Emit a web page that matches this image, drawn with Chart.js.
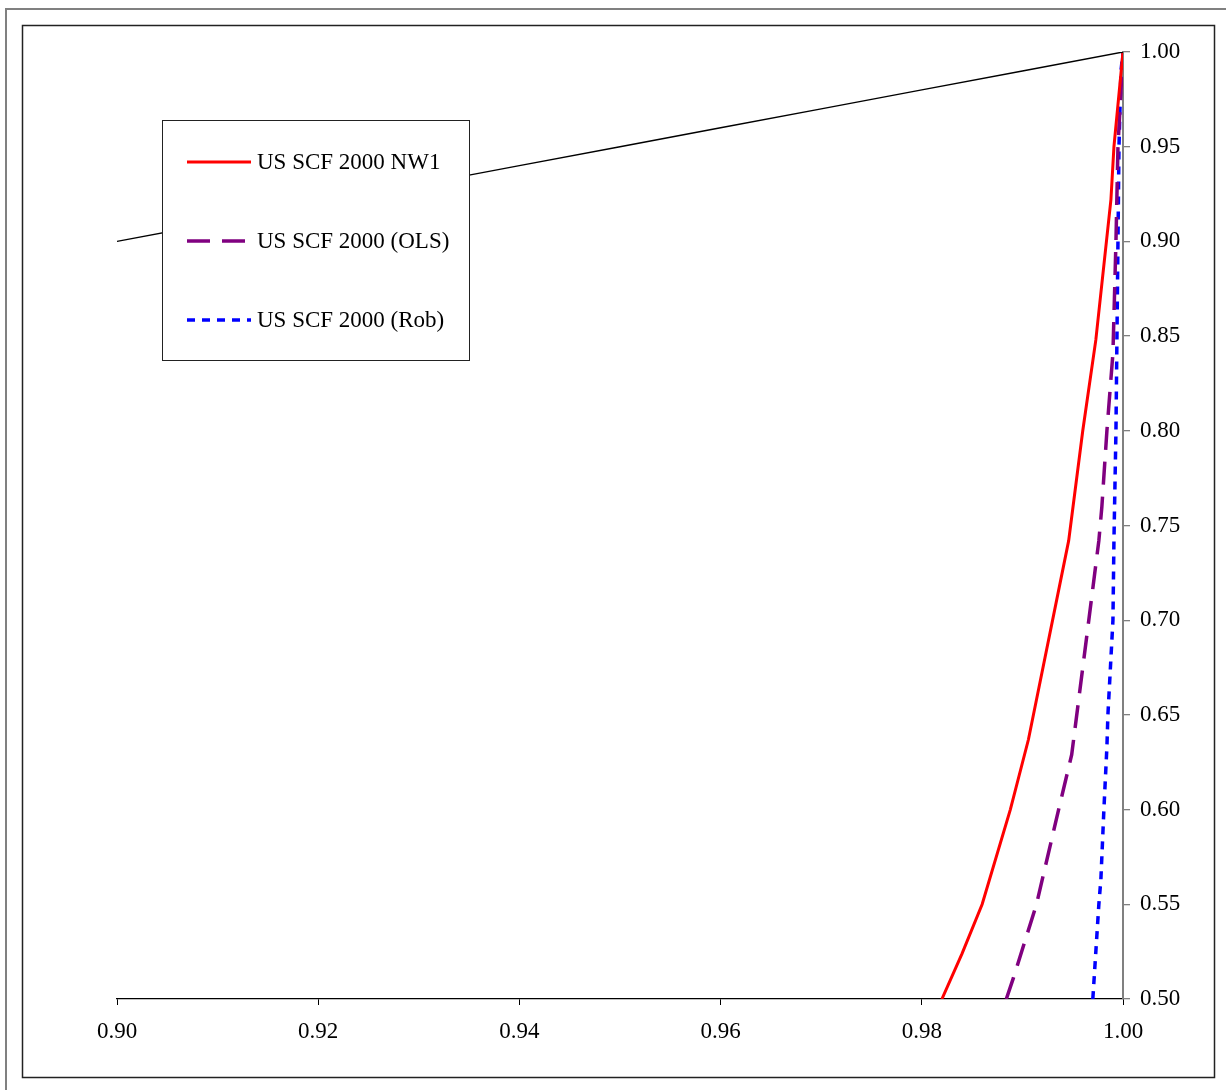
<!DOCTYPE html>
<html>
<head>
<meta charset="utf-8">
<script src="https://cdn.jsdelivr.net/npm/chart.js@4/dist/chart.umd.min.js"></script>
<style>
  html, body { margin: 0; padding: 0; background: #ffffff; }
  #wrap { width: 1226px; height: 1090px; position: relative; }
</style>
</head>
<body>
<div id="wrap"><canvas id="c" width="1226" height="1090"></canvas></div>
<script>
// ---- data ----
const xTicks = [0.90, 0.92, 0.94, 0.96, 0.98, 1.00];
const yTicks = [0.50, 0.55, 0.60, 0.65, 0.70, 0.75, 0.80, 0.85, 0.90, 0.95, 1.00];

const equalityX = [0.900, 0.910, 0.920, 0.930, 0.940, 0.950, 0.960, 0.970, 0.980, 0.990, 1.000];
const equalityY = [0.900, 0.910, 0.920, 0.930, 0.940, 0.950, 0.960, 0.970, 0.980, 0.990, 1.000];

const nw1X = [0.9820, 0.9840, 0.9860, 0.9888, 0.9906, 0.9946, 0.9960, 0.9973, 0.9988, 0.9991, 1.0000];
const nw1Y = [0.500, 0.524, 0.550, 0.600, 0.637, 0.742, 0.800, 0.848, 0.922, 0.950, 1.000];

const olsX = [0.9884, 0.9891, 0.9914, 0.9936, 0.9949, 0.9966, 0.9976, 0.9979, 0.9984, 0.9990, 0.9993, 0.9995, 1.0000];
const olsY = [0.500, 0.511, 0.550, 0.600, 0.629, 0.700, 0.742, 0.760, 0.800, 0.841, 0.900, 0.950, 1.000];

const robX = [0.9970, 0.9976, 0.9978, 0.9981, 0.9984, 0.9985, 0.9990, 0.9991, 0.9993, 0.9994, 0.9995, 0.9996, 0.9998, 1.0000];
const robY = [0.500, 0.550, 0.563, 0.600, 0.633, 0.650, 0.700, 0.742, 0.800, 0.850, 0.900, 0.950, 0.990, 1.000];

const seriesLabels = ['US SCF 2000 NW1', 'US SCF 2000 (OLS)', 'US SCF 2000 (Rob)'];

function pts(xs, ys) { return xs.map((x, i) => ({ x: x, y: ys[i] })); }

const FONT = '"Liberation Serif", "Times New Roman", serif';

const framePlugin = {
  id: 'frames',
  beforeDraw(chart) {
    const ctx = chart.ctx;
    ctx.save();
    ctx.fillStyle = '#ffffff';
    ctx.fillRect(0, 0, chart.width, chart.height);
    ctx.strokeStyle = '#808080';
    ctx.lineWidth = 2;
    ctx.strokeRect(6, 9, 1240, 1100);
    ctx.strokeStyle = '#222222';
    ctx.lineWidth = 1.5;
    ctx.strokeRect(22.5, 25.5, 1192, 1052);
    ctx.restore();
  }
};

const legendPlugin = {
  id: 'boxLegend',
  afterDatasetsDraw(chart) {
    const ctx = chart.ctx;
    ctx.save();
    const bx = 162.5, by = 120.5, bw = 307, bh = 240;
    ctx.fillStyle = '#ffffff';
    ctx.fillRect(bx, by, bw, bh);
    ctx.strokeStyle = '#222222';
    ctx.lineWidth = 1;
    ctx.strokeRect(bx, by, bw, bh);
    const rows = [162, 241, 320];
    const ds = chart.data.datasets.slice(1);
    ds.forEach((d, i) => {
      ctx.beginPath();
      ctx.strokeStyle = d.borderColor;
      ctx.lineWidth = d.borderWidth;
      ctx.setLineDash(d.borderDash || []);
      ctx.moveTo(187, rows[i]);
      ctx.lineTo(251, rows[i]);
      ctx.stroke();
      ctx.setLineDash([]);
      ctx.fillStyle = '#000000';
      ctx.font = '23px ' + FONT;
      ctx.textBaseline = 'middle';
      ctx.textAlign = 'left';
      ctx.fillText(d.label, 257, rows[i] + 1);
    });
    ctx.restore();
  }
};

new Chart(document.getElementById('c'), {
  type: 'line',
  data: {
    datasets: [
      { label: 'equality', data: pts(equalityX, equalityY), borderColor: '#000000', borderWidth: 1.4, pointRadius: 0, tension: 0 },
      { label: seriesLabels[0], data: pts(nw1X, nw1Y), borderColor: '#ff0000', borderWidth: 3, pointRadius: 0, tension: 0 },
      { label: seriesLabels[1], data: pts(olsX, olsY), borderColor: '#800080', borderWidth: 3.5, borderDash: [23, 12], pointRadius: 0, tension: 0 },
      { label: seriesLabels[2], data: pts(robX, robY), borderColor: '#0000ff', borderWidth: 3.5, borderDash: [8, 7], pointRadius: 0, tension: 0 }
    ]
  },
  options: {
    responsive: false,
    animation: false,
    devicePixelRatio: 1,
    layout: { padding: { left: 117, top: 52, right: 0, bottom: 0 } },
    plugins: { legend: { display: false }, tooltip: { enabled: false } },
    scales: {
      x: {
        type: 'linear',
        min: 0.90, max: 1.00,
        afterBuildTicks(scale) { scale.ticks = xTicks.map(v => ({ value: v })); },
        afterFit(scale) { scale.height = 91; },
        grid: { display: true, drawOnChartArea: false, drawTicks: true, tickLength: 6, color: '#000000', lineWidth: 1 },
        border: { display: true, color: '#000000', width: 1.3 },
        ticks: { color: '#000000', font: { family: FONT, size: 23 }, padding: 13, maxRotation: 0,
          callback: v => Number(v).toFixed(2) }
      },
      y: {
        type: 'linear',
        position: 'right',
        min: 0.50, max: 1.00,
        afterBuildTicks(scale) { scale.ticks = yTicks.map(v => ({ value: v })); },
        afterFit(scale) { scale.width = 103; },
        grid: { display: true, drawOnChartArea: false, drawTicks: true, tickLength: 7, color: '#808080', lineWidth: 1.3 },
        border: { display: true, color: '#808080', width: 2 },
        ticks: { color: '#000000', font: { family: FONT, size: 23 }, padding: 10,
          callback: v => Number(v).toFixed(2) }
      }
    }
  },
  plugins: [framePlugin, legendPlugin]
});
</script>
</body>
</html>
